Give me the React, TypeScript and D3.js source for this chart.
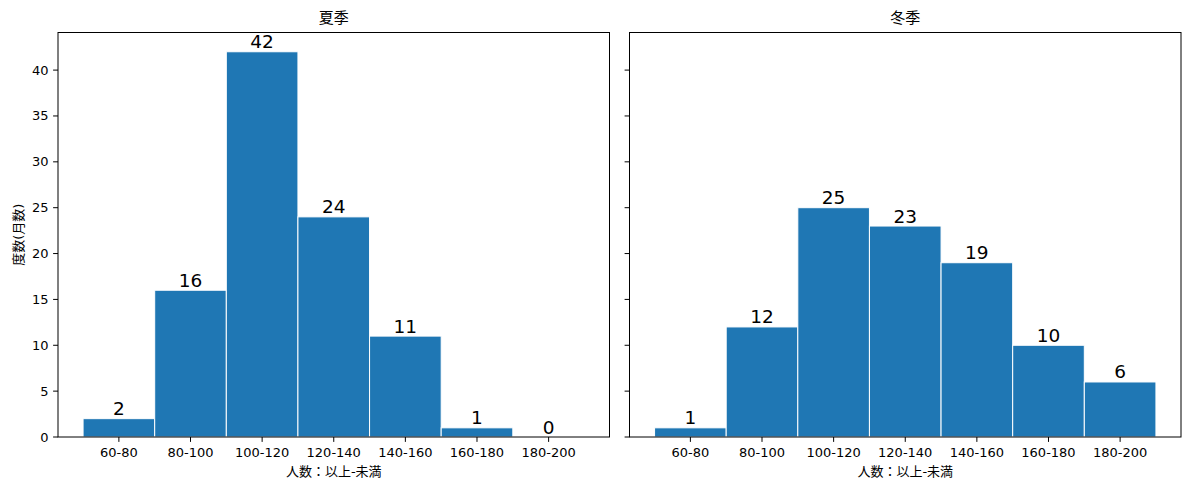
import React from 'react';
import * as d3 from 'd3';

const binLabels = ["60-80", "80-100", "100-120", "120-140", "140-160", "160-180", "180-200"];
const binStarts = [60, 80, 100, 120, 140, 160, 180];
const summerCounts = [2, 16, 42, 24, 11, 1, 0];
const winterCounts = [1, 12, 25, 23, 19, 10, 6];
const yTicks = [0, 5, 10, 15, 20, 25, 30, 35, 40];
const panelTitles = ["夏季", "冬季"];

const W = 1189;
const H = 490;
const FONT = "'DejaVu Sans', 'Noto Sans CJK JP', sans-serif";
const top = 32.5;
const bottom = 437;
const panels = [
  { left: 58, right: 609.5, counts: summerCounts, title: panelTitles[0], yLabels: true },
  { left: 629.5, right: 1181, counts: winterCounts, title: panelTitles[1], yLabels: false },
];

const binWidth = 20;
const maxCount = d3.max([...summerCounts, ...winterCounts]) as number;
const y = d3.scaleLinear().domain([0, maxCount * 1.05]).range([bottom, top]);

const Panel: React.FC<{ p: typeof panels[number] }> = ({ p }) => {
  const lo = binStarts[0];
  const hi = binStarts[binStarts.length - 1] + binWidth;
  const pad = (hi - lo) * 0.05;
  const x = d3.scaleLinear().domain([lo - pad, hi + pad]).range([p.left, p.right]);
  return (
    <g>
      {p.counts.map((c, i) => (
        <rect key={i}
          x={x(binStarts[i])} width={x(binStarts[i] + binWidth) - x(binStarts[i])}
          y={y(c)} height={y(0) - y(c)}
          fill="#1f77b4" stroke="#ffffff" strokeWidth={1} />
      ))}
      {p.counts.map((c, i) => (
        <text key={'l' + i} x={x(binStarts[i] + binWidth / 2)} y={y(c) - 3.5}
          textAnchor="middle" fontSize={18.5} fill="#000">{c}</text>
      ))}
      <rect x={p.left} y={top} width={p.right - p.left} height={bottom - top}
        fill="none" stroke="#000" strokeWidth={1} />
      {binLabels.map((t, i) => {
        const cx = x(binStarts[i] + binWidth / 2);
        return (
          <g key={'x' + i}>
            <line x1={cx} x2={cx} y1={bottom} y2={bottom + 4.9} stroke="#000" />
            <text x={cx} y={bottom + 20} textAnchor="middle" fontSize={13} fill="#000">{t}</text>
          </g>
        );
      })}
      {yTicks.map((t) => (
        <g key={'y' + t}>
          <line x1={p.left - 4.9} x2={p.left} y1={y(t)} y2={y(t)} stroke="#000" />
          {p.yLabels && (
            <text x={p.left - 9.5} y={y(t) + 4.5} textAnchor="end" fontSize={13} fill="#000">{t}</text>
          )}
        </g>
      ))}
      <text x={(p.left + p.right) / 2} y={23} textAnchor="middle" fontSize={15} fill="#000">{p.title}</text>
      <text x={(p.left + p.right) / 2} y={476} textAnchor="middle" fontSize={13} fill="#000">人数：以上-未満</text>
    </g>
  );
};

export default function App() {
  return (
    <svg width={W} height={H} style={{ display: 'block', position: 'absolute', left: 0, top: 0, background: '#fff' }}
      fontFamily={FONT}>
      <rect width={W} height={H} fill="#fff" />
      {panels.map((p, i) => <Panel key={i} p={p} />)}
      <text transform={`translate(23, ${(top + bottom) / 2}) rotate(-90)`} textAnchor="middle"
        fontSize={13} fill="#000">度数(月数)</text>
    </svg>
  );
}
